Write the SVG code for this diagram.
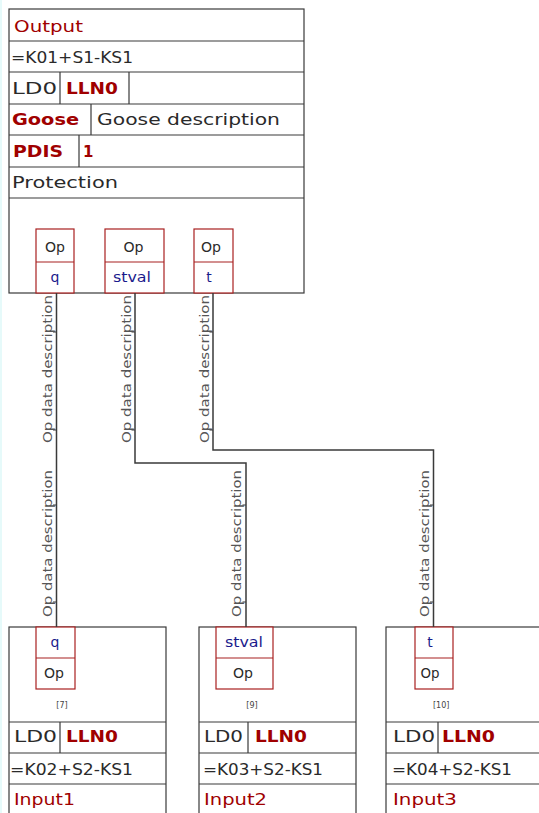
<svg xmlns="http://www.w3.org/2000/svg" width="539" height="813" viewBox="0 0 539 813">
<style>
text{font-family:"DejaVu Sans","Liberation Sans",sans-serif}
.box{fill:#fff;stroke:#3a3a3a;stroke-width:1.2}
.div{stroke:#3a3a3a;stroke-width:1.2;fill:none}
.op{fill:#fff;stroke:#a82020;stroke-width:1.2}
.opd{stroke:#a82020;stroke-width:1.2;fill:none}
.t{font-size:15px;fill:#2a2a2a}
.r{font-size:15px;fill:#a00000;font-weight:bold}
.rn{font-size:15px;fill:#a00000}
.b{font-size:14px;fill:#1a1a8c}
.o{font-size:14px;fill:#2a2a2a}
.s{font-size:8px;fill:#444}
.lbl{font-size:13px;fill:#555}
.c{stroke:#3a3a3a;stroke-width:1.5;fill:none}
</style>
<rect x="0" y="0" width="539" height="813" fill="#fff"/>
<rect x="0" y="0" width="2" height="813" fill="#e6fafa"/>

<g id="output">
<rect class="box" x="9" y="9" width="295" height="284"/>
<path class="div" d="M9 41H304M9 72H304M9 104H304M9 135H304M9 167H304M9 198H304M60 72V104M129 72V104M91 104V135M79 135V167"/>
<text class="rn" x="14" y="32" textLength="69" lengthAdjust="spacingAndGlyphs">Output</text>
<text class="t" x="11" y="63" textLength="122" lengthAdjust="spacingAndGlyphs">=K01+S1-KS1</text>
<text class="t" x="12" y="94" textLength="45" lengthAdjust="spacingAndGlyphs">LD0</text>
<text class="r" x="66" y="94" textLength="52" lengthAdjust="spacingAndGlyphs">LLN0</text>
<text class="r" x="12" y="125" textLength="67" lengthAdjust="spacingAndGlyphs">Goose</text>
<text class="t" x="97" y="125" textLength="183" lengthAdjust="spacingAndGlyphs">Goose description</text>
<text class="r" x="13" y="157" textLength="50" lengthAdjust="spacingAndGlyphs">PDIS</text>
<text class="r" x="83" y="157">1</text>
<text class="t" x="12" y="188" textLength="106" lengthAdjust="spacingAndGlyphs">Protection</text>
<g id="out-q">
<rect class="op" x="36" y="229" width="38" height="64"/>
<path class="opd" d="M36 262H74"/>
<text class="o" x="55" y="252" text-anchor="middle" textLength="20" lengthAdjust="spacingAndGlyphs">Op</text>
<text class="b" x="55" y="282" text-anchor="middle">q</text>
</g>
<g id="out-stval">
<rect class="op" x="105" y="229" width="59" height="64"/>
<path class="opd" d="M105 262H164"/>
<text class="o" x="133.5" y="252" text-anchor="middle" textLength="20" lengthAdjust="spacingAndGlyphs">Op</text>
<text class="b" x="132" y="282" text-anchor="middle" textLength="38" lengthAdjust="spacingAndGlyphs">stval</text>
</g>
<g id="out-t">
<rect class="op" x="194" y="229" width="39" height="64"/>
<path class="opd" d="M194 262H233"/>
<text class="o" x="211" y="252" text-anchor="middle" textLength="20" lengthAdjust="spacingAndGlyphs">Op</text>
<text class="b" x="209" y="282" text-anchor="middle">t</text>
</g>
</g>

<g id="input1">
<rect class="box" x="9" y="627" width="157" height="200"/>
<path class="div" d="M9 722H166M9 753H166M9 784H166M60 722V753"/>
<rect class="op" x="36" y="627" width="39" height="62"/>
<path class="opd" d="M36 658H75"/>
<text class="b" x="55" y="647" text-anchor="middle">q</text>
<text class="o" x="54" y="678" text-anchor="middle" textLength="20" lengthAdjust="spacingAndGlyphs">Op</text>
<text class="s" x="62" y="708" text-anchor="middle">[7]</text>
<text class="t" x="14" y="742" textLength="43" lengthAdjust="spacingAndGlyphs">LD0</text>
<text class="r" x="66" y="742" textLength="52" lengthAdjust="spacingAndGlyphs">LLN0</text>
<text class="t" x="10" y="775" textLength="123" lengthAdjust="spacingAndGlyphs">=K02+S2-KS1</text>
<text class="rn" x="14" y="805" textLength="61" lengthAdjust="spacingAndGlyphs">Input1</text>
</g>

<g id="input2">
<rect class="box" x="199" y="627" width="157" height="200"/>
<path class="div" d="M199 722H356M199 753H356M199 784H356M248 722V753"/>
<rect class="op" x="216" y="627" width="57" height="62"/>
<path class="opd" d="M216 658H273"/>
<text class="b" x="244" y="647" text-anchor="middle" textLength="38" lengthAdjust="spacingAndGlyphs">stval</text>
<text class="o" x="243" y="678" text-anchor="middle" textLength="20" lengthAdjust="spacingAndGlyphs">Op</text>
<text class="s" x="252" y="708" text-anchor="middle">[9]</text>
<text class="t" x="204" y="742" textLength="39" lengthAdjust="spacingAndGlyphs">LD0</text>
<text class="r" x="255" y="742" textLength="52" lengthAdjust="spacingAndGlyphs">LLN0</text>
<text class="t" x="203" y="775" textLength="120" lengthAdjust="spacingAndGlyphs">=K03+S2-KS1</text>
<text class="rn" x="204" y="805" textLength="63" lengthAdjust="spacingAndGlyphs">Input2</text>
</g>

<g id="input3">
<rect class="box" x="386" y="627" width="160" height="200"/>
<path class="div" d="M386 722H546M386 753H546M386 784H546M438 722V753"/>
<rect class="op" x="415" y="627" width="38" height="62"/>
<path class="opd" d="M415 658H453"/>
<text class="b" x="430" y="647" text-anchor="middle">t</text>
<text class="o" x="430" y="678" text-anchor="middle" textLength="19" lengthAdjust="spacingAndGlyphs">Op</text>
<text class="s" x="433" y="708">[10]</text>
<text class="t" x="393" y="742" textLength="42" lengthAdjust="spacingAndGlyphs">LD0</text>
<text class="r" x="442" y="742" textLength="53" lengthAdjust="spacingAndGlyphs">LLN0</text>
<text class="t" x="392" y="775" textLength="120" lengthAdjust="spacingAndGlyphs">=K04+S2-KS1</text>
<text class="rn" x="393" y="805" textLength="64" lengthAdjust="spacingAndGlyphs">Input3</text>
</g>

<g id="connectors">
<path class="c" d="M56.5 293V627"/>
<path class="c" d="M135 293V463H246V627"/>
<path class="c" d="M213 293V450H433.5V627"/>
<path class="div" d="M53 332H56.5M53 430H56.5M131.5 332H135M131.5 430H135M209.5 332H213M209.5 430H213M53 505H56.5M53 602H56.5M242.5 505H246M242.5 602H246M430 505H433.5M430 602H433.5"/>
<text class="lbl" transform="translate(52,443) rotate(-90)" textLength="148" lengthAdjust="spacingAndGlyphs">Op data description</text>
<text class="lbl" transform="translate(131,443) rotate(-90)" textLength="148" lengthAdjust="spacingAndGlyphs">Op data description</text>
<text class="lbl" transform="translate(209,443) rotate(-90)" textLength="148" lengthAdjust="spacingAndGlyphs">Op data description</text>
<text class="lbl" transform="translate(52,617) rotate(-90)" textLength="147" lengthAdjust="spacingAndGlyphs">Op data description</text>
<text class="lbl" transform="translate(241,617) rotate(-90)" textLength="147" lengthAdjust="spacingAndGlyphs">Op data description</text>
<text class="lbl" transform="translate(429,617) rotate(-90)" textLength="147" lengthAdjust="spacingAndGlyphs">Op data description</text>
</g>
</svg>
